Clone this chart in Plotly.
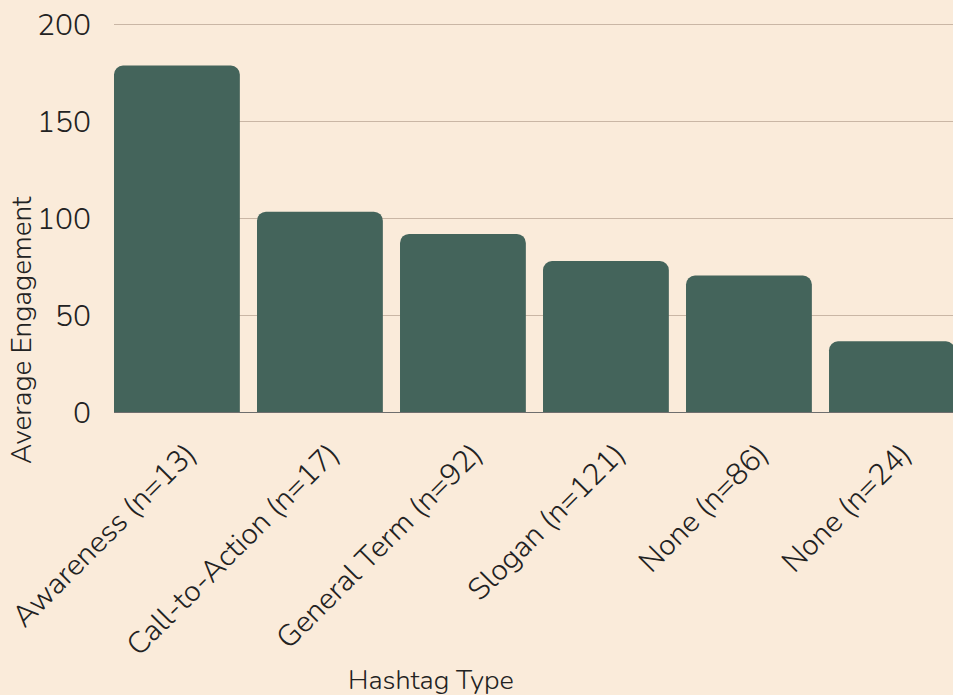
import plotly.graph_objects as go

categories = ["Awareness (n=13)", "Call-to-Action (n=17)", "General Term (n=92)",
              "Slogan (n=121)", "None (n=86)", "None (n=24)"]
x_index = [0, 1, 2, 3, 4, 5]
avg_engagement = [179, 103.5, 92, 78, 70.5, 36.5]
y_ticks = [0, 50, 100, 150, 200]

BG = "#FAEBDA"
BAR = "#44645B"
FONT = "Nunito, 'Open Sans', Lato, sans-serif"

fig = go.Figure(go.Bar(
    x=x_index, y=avg_engagement,
    marker=dict(color=BAR, line=dict(width=0)),
    width=0.88,
))

fig.update_layout(
    width=953, height=695,
    margin=dict(l=114, r=0, t=23, b=283),
    paper_bgcolor=BG, plot_bgcolor=BG,
    barcornerradius=9,
    font=dict(family=FONT, color="#222222", weight=300),
    showlegend=False,
)
fig.update_xaxes(
    range=[-0.44, 5.427], automargin=False,
    tickmode="array", tickvals=x_index, ticktext=categories,
    tickangle=-45, tickfont=dict(size=30, weight=300),
    ticklabeloverflow="allow", ticklabelstandoff=17, ticklabelshift=10,
    showgrid=False, showline=False, ticks="",
)
fig.update_yaxes(
    range=[0, 201], automargin=False,
    tickmode="array", tickvals=y_ticks,
    tickfont=dict(size=30, weight=300),
    showgrid=True, gridcolor="#C9B6A5", gridwidth=1,
    zeroline=True, zerolinecolor="#6E6E6E", zerolinewidth=1,
    ticklabelstandoff=22,
)
fig.add_annotation(
    text="Average Engagement", xref="paper", yref="paper",
    x=-(114 - 22) / (953 - 114), y=(412 - 330) / (412 - 23),
    textangle=-90, showarrow=False, font=dict(size=28, weight=300),
    xanchor="center", yanchor="middle",
)
fig.add_annotation(
    text="Hashtag Type", xref="paper", yref="paper",
    x=(431 - 114) / (953 - 114), y=0, yshift=-268,
    showarrow=False, font=dict(size=27, weight=300), yanchor="middle",
)

fig.write_html("out.html", post_script="document.body.style.margin='0';",
               config={"displayModeBar": False})
